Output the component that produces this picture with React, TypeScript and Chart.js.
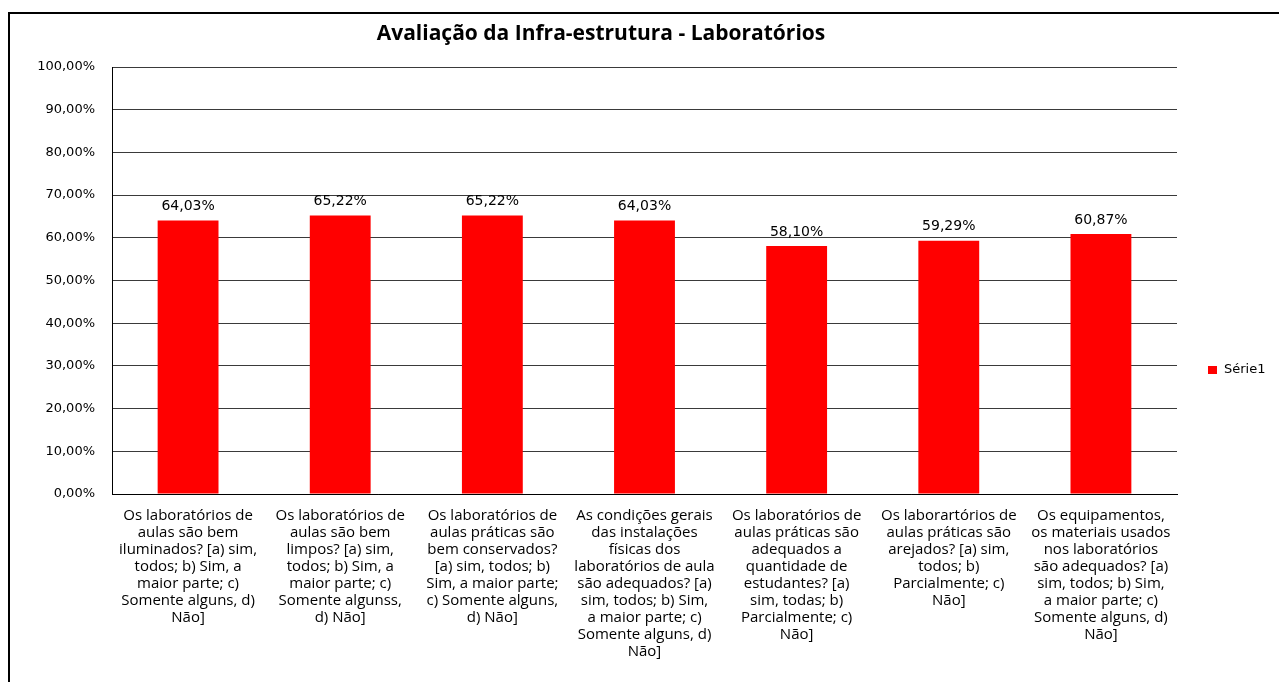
import React, { useEffect, useRef } from "react";
import { Chart, registerables } from "chart.js";

Chart.register(...registerables);

const chartTitle = "Avaliação da Infra-estrutura - Laboratórios";
const seriesLabel = "Série1";

const categories: string[][] = [
  ["Os laboratórios de", "aulas são bem", "iluminados? [a) sim,", "todos; b) Sim, a", "maior parte; c)", "Somente alguns, d)", "Não]"],
  ["Os laboratórios de", "aulas são bem", "limpos? [a) sim,", "todos; b) Sim, a", "maior parte; c)", "Somente algunss,", "d) Não]"],
  ["Os laboratórios de", "aulas práticas são", "bem conservados?", "[a) sim, todos; b)", "Sim, a maior parte;", "c) Somente alguns,", "d) Não]"],
  ["As condições gerais", "das instalações", "físicas dos", "laboratórios de aula", "são adequados? [a)", "sim, todos; b) Sim,", "a maior parte; c)", "Somente alguns, d)", "Não]"],
  ["Os laboratórios de", "aulas práticas são", "adequados a", "quantidade de", "estudantes? [a)", "sim, todas; b)", "Parcialmente; c)", "Não]"],
  ["Os laborartórios de", "aulas práticas são", "arejados? [a) sim,", "todos; b)", "Parcialmente; c)", "Não]"],
  ["Os equipamentos,", "os materiais usados", "nos laboratórios", "são adequados? [a)", "sim, todos; b) Sim,", "a maior parte; c)", "Somente alguns, d)", "Não]"],
];

const values: number[] = [64.03, 65.22, 65.22, 64.03, 58.1, 59.29, 60.87];

const yMin = 0;
const yMax = 100;
const yStep = 10;

const barColor = "#FF0000";

const fmtPct = (v: number) => v.toFixed(2).replace(".", ",") + "%";

export default function App() {
  const ref = useRef<HTMLCanvasElement | null>(null);

  useEffect(() => {
    if (!ref.current) return;

    const extras = {
      id: "extras",
      afterDatasetsDraw(chart: any) {
        const ctx = chart.ctx;
        const meta = chart.getDatasetMeta(0);
        ctx.save();
        ctx.fillStyle = "#000";
        ctx.font = "14px 'DejaVu Sans'";
        ctx.textAlign = "center";
        ctx.textBaseline = "middle";
        meta.data.forEach((bar: any, i: number) => {
          ctx.fillText(fmtPct(values[i]), bar.x, bar.y - 14);
        });
        ctx.restore();
      },
      afterDraw(chart: any) {
        const ctx = chart.ctx;
        ctx.save();
        ctx.fillStyle = "#000";
        ctx.font = "bold 21px 'Open Sans'";
        ctx.textAlign = "center";
        ctx.textBaseline = "middle";
        ctx.fillText(chartTitle, 601, 34);
        ctx.fillStyle = barColor;
        ctx.fillRect(1208, 366, 9, 8);
        ctx.fillStyle = "#000";
        ctx.font = "13px 'DejaVu Sans'";
        ctx.textAlign = "left";
        ctx.fillText(seriesLabel, 1224, 370);
        ctx.restore();
      },
    };

    const chart = new Chart(ref.current, {
      type: "bar",
      data: {
        labels: categories,
        datasets: [
          {
            label: seriesLabel,
            data: values,
            backgroundColor: barColor,
            borderWidth: 0,
            barPercentage: 0.4,
            categoryPercentage: 1,
          },
        ],
      },
      options: {
        animation: false,
        responsive: false,
        layout: { padding: { top: 67, right: 102, left: 0, bottom: 0 } },
        plugins: {
          legend: { display: false },
          title: { display: false },
          tooltip: { enabled: false },
        },
        scales: {
          x: {
            grid: { display: false, drawTicks: false },
            border: { display: true, color: "#000", width: 1 },
            ticks: {
              autoSkip: false,
              maxRotation: 0,
              minRotation: 0,
              padding: 13,
              color: "#000",
              font: { family: "'Open Sans'", size: 15, lineHeight: "17px" },
            },
            afterFit: (s: any) => {
              s.height = 188;
            },
          },
          y: {
            min: yMin,
            max: yMax,
            grid: { color: "#3a3a3a", lineWidth: 1, drawTicks: false },
            border: { display: true, color: "#000", width: 1 },
            ticks: {
              stepSize: yStep,
              padding: 17,
              color: "#000",
              font: { family: "'DejaVu Sans'", size: 13 },
              callback: (v: any) => fmtPct(Number(v)),
            },
            afterFit: (s: any) => {
              s.width = 112;
            },
          },
        },
      },
      plugins: [extras],
    });

    return () => chart.destroy();
  }, []);

  return (
    <div>
      <div
        style={{
          position: "fixed",
          left: 8,
          top: 12,
          width: 1320,
          height: 720,
          border: "2px solid #000",
          boxSizing: "border-box",
        }}
      />
      <canvas
        ref={ref}
        width={1279}
        height={682}
        style={{ position: "fixed", left: 0, top: 0, width: 1279, height: 682 }}
      />
    </div>
  );
}
